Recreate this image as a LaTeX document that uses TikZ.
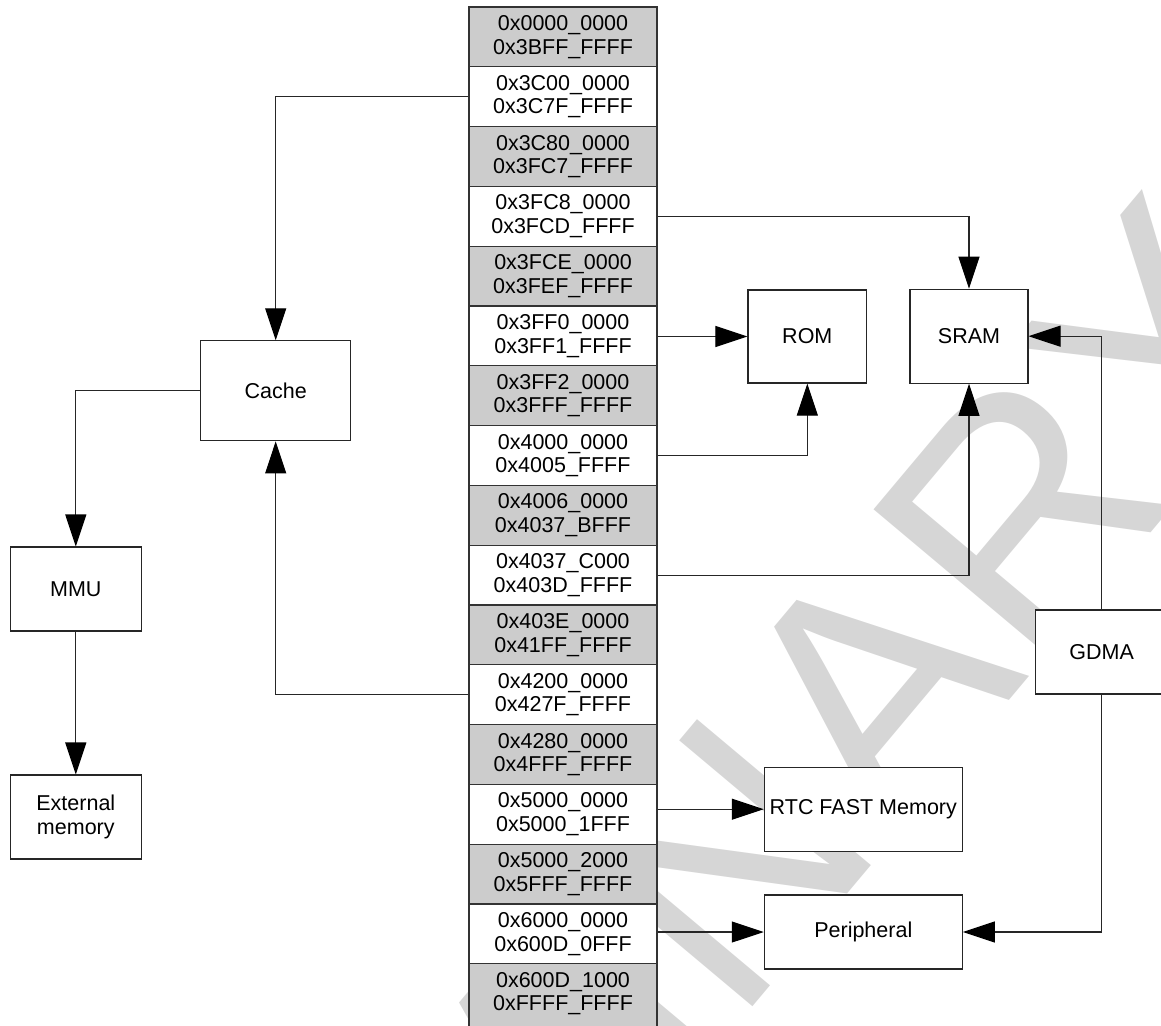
\documentclass[tikz,border=0pt]{standalone}
\usepackage{fontspec}
\setmainfont{Liberation Sans}
\usetikzlibrary{arrows.meta}
\newcommand{\addrfont}{\fontsize{21.5}{23.5}\selectfont}
\newcommand{\wmfont}{\fontsize{330}{330}\selectfont}
\tikzset{
  rowtext/.style={inner sep=0pt, align=center, font=\addrfont},
  rowbox/.style={rowtext, draw=black!80, line width=1.1pt, minimum width=188pt, minimum height=59.8pt},
  grayrow/.style={rowbox, fill=gray!40},
  whiterow/.style={rowbox, fill=white},
  blk/.style={draw=black!85, fill=white, line width=1.1pt, inner sep=0pt, align=center, font=\addrfont},
  conn/.style={draw=black!85, line width=1.1pt, -{Triangle[length=32pt,width=21pt,color=black]}},
  wmark/.style={rotate=50, text=black!16, font=\wmfont, inner sep=0pt}
}
\begin{document}
\begin{tikzpicture}[x=1pt,y=-1pt]
\useasboundingbox (0,0) rectangle (1161,1025);
\clip (0,0) rectangle (1161,1025);
% watermark
\node[wmark] (wm) at (517,1111) {PRELIMINARY};
% memory map column
\foreach \i/\a/\b in {
  1/0x0000\_0000/0x3BFF\_FFFF,
  2/0x3C00\_0000/0x3C7F\_FFFF,
  3/0x3C80\_0000/0x3FC7\_FFFF,
  4/0x3FC8\_0000/0x3FCD\_FFFF,
  5/0x3FCE\_0000/0x3FEF\_FFFF,
  6/0x3FF0\_0000/0x3FF1\_FFFF,
  7/0x3FF2\_0000/0x3FFF\_FFFF,
  8/0x4000\_0000/0x4005\_FFFF,
  9/0x4006\_0000/0x4037\_BFFF,
  10/0x4037\_C000/0x403D\_FFFF,
  11/0x403E\_0000/0x41FF\_FFFF,
  12/0x4200\_0000/0x427F\_FFFF,
  13/0x4280\_0000/0x4FFF\_FFFF,
  14/0x5000\_0000/0x5000\_1FFF,
  15/0x5000\_2000/0x5FFF\_FFFF,
  16/0x6000\_0000/0x600D\_0FFF}{
  \pgfmathsetmacro{\yy}{36.9+59.8*(\i-1)}
  \pgfmathtruncatemacro{\odd}{mod(\i,2)}
  \ifnum\odd=1
    \node[grayrow] (r\i) at (563,\yy) {\a\\\b};
  \else
    \node[whiterow] (r\i) at (563,\yy) {\a\\\b};
  \fi
}
\draw[draw=black!80, line width=1.1pt, fill=gray!40] (469,963.8) rectangle (657,1040);
\node[rowtext] (r17) at (563,993.7) {0x600D\_1000\\0xFFFF\_FFFF};
% blocks
\node[blk, minimum width=150pt, minimum height=100pt] (cache) at (275.7,390.8) {Cache};
\node[blk, minimum width=131pt, minimum height=84pt] (mmu) at (75.8,589) {MMU};
\node[blk, minimum width=131pt, minimum height=84pt] (ext) at (75.8,817) {External\\memory};
\node[blk, minimum width=118.7pt, minimum height=93pt] (rom) at (807.3,336.5) {ROM};
\node[blk, minimum width=118pt, minimum height=94pt] (sram) at (969,336.2) {SRAM};
\node[blk, minimum width=132pt, minimum height=84pt] (gdma) at (1101.7,652) {GDMA};
\node[blk, minimum width=198pt, minimum height=83.7pt] (rtc) at (863.3,809.2) {RTC FAST Memory};
\node[blk, minimum width=198pt, minimum height=74pt] (per) at (863.3,932) {Peripheral};
% connectors
\draw[conn] (r2.west) -| (cache.north);
\draw[conn] (r12.west) -| (cache.south);
\draw[conn] (cache.west) -| (mmu.north);
\draw[conn] (mmu.south) -- (ext.north);
\draw[conn] (r4.east) -| (sram.north);
\draw[conn] (r6.east |- rom.west) -- (rom.west);
\draw[conn] (r8.east) -| (rom.south);
\draw[conn] (r10.east) -| (sram.south);
\draw[conn] (gdma.north) |- (sram.east);
\draw[conn] (gdma.south) |- (per.east);
\draw[conn] (r14.east |- rtc.west) -- (rtc.west);
\draw[conn] (r16.east |- per.west) -- (per.west);
\end{tikzpicture}
\end{document}
